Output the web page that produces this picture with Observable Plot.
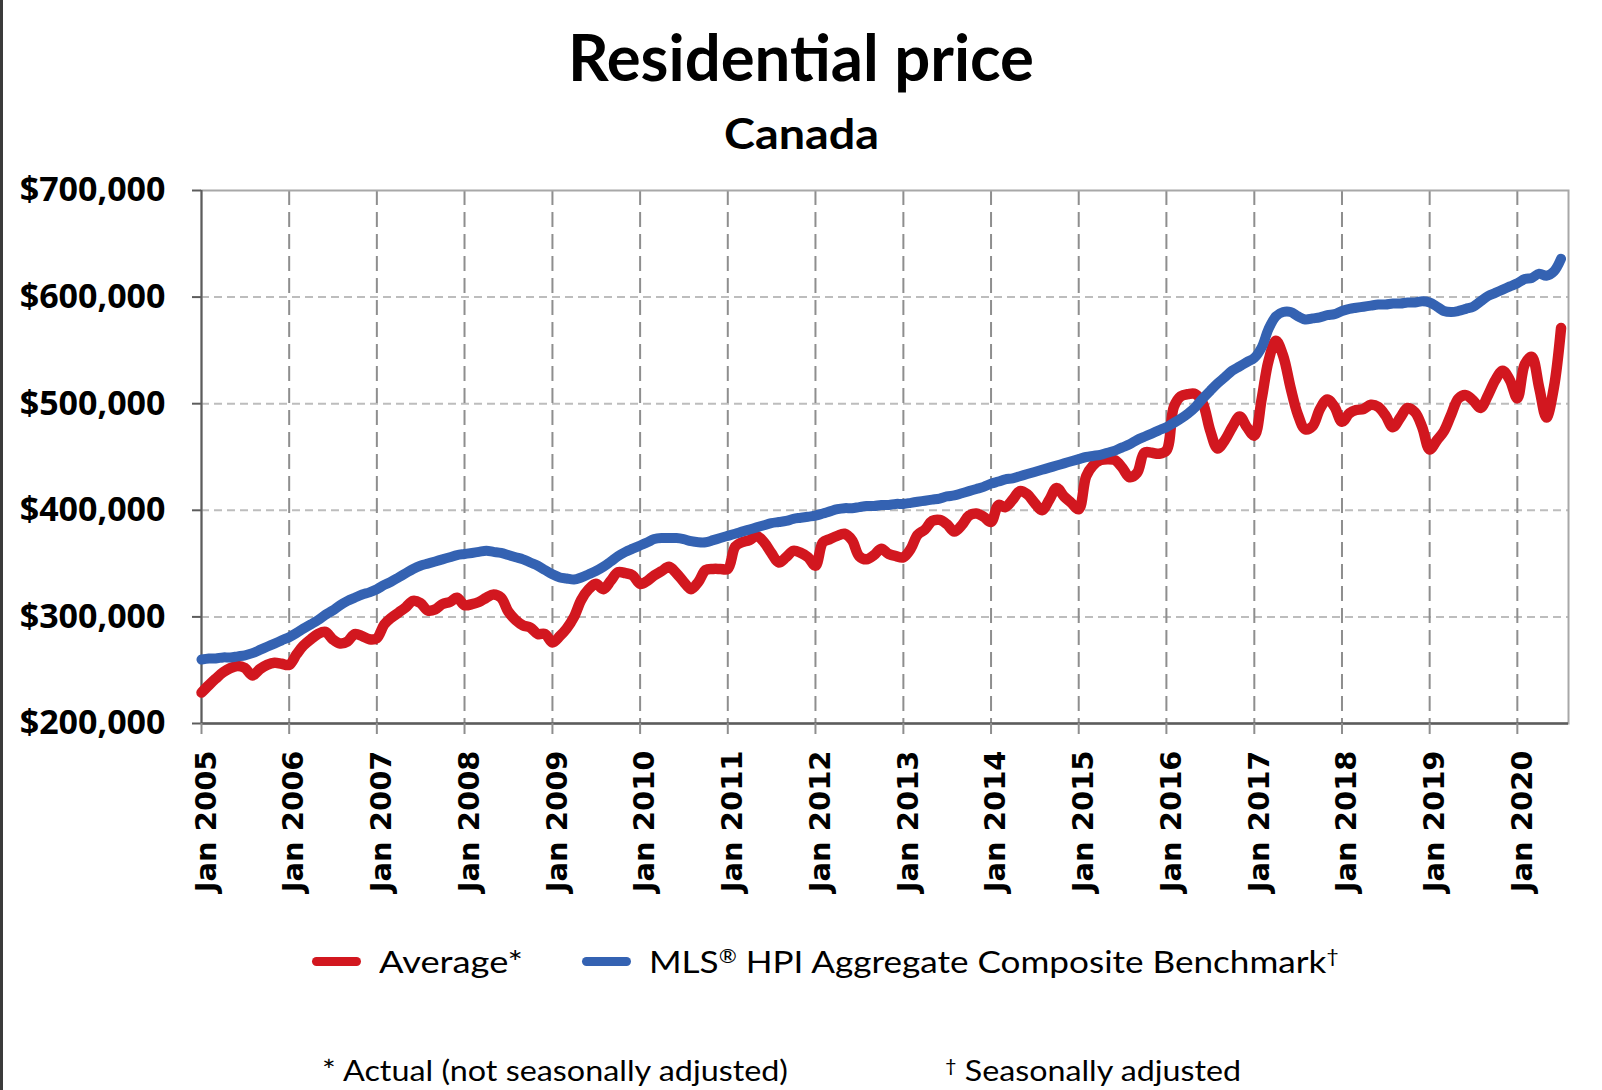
<!DOCTYPE html>
<html>
<head>
<meta charset="utf-8">
<title>Residential price — Canada</title>
<script src="https://cdn.jsdelivr.net/npm/d3@7"></script>
<script src="https://cdn.jsdelivr.net/npm/@observablehq/plot@0.6"></script>
<style>
  html, body { margin: 0; padding: 0; background: #fff; }
  #page { position: relative; width: 1602px; height: 1090px; overflow: hidden; background: #fff; color: #000; font-family: Lato, "Open Sans", sans-serif; }
  #edge { position: absolute; left: 0; top: 0; width: 3px; height: 100%; background: #3b3b3b; }
  .txt { position: absolute; left: 0; top: 0; margin: 0; white-space: nowrap; line-height: 1; font-family: Lato, "Open Sans", sans-serif; color: #000; }
  .txt sup { font-size: 0.62em; vertical-align: 0.5em; line-height: 0; }
  #chart { position: absolute; left: 0; top: 150px; }
  .swatch { position: absolute; height: 9px; border-radius: 5px; }
</style>
</head>
<body>
<div id="page">
  <div id="edge"></div>
  <h1 class="txt" id="title" style="font-weight:700;font-size:56px">Residential price</h1>
  <h2 class="txt" id="subtitle" style="font-weight:700;font-size:40px">Canada</h2>
  <div id="chart"></div>
  <div class="swatch" id="sw-avg"></div>
  <div class="txt" id="lg-avg" style="font-size:28px"></div>
  <div class="swatch" id="sw-hpi"></div>
  <div class="txt" id="lg-hpi" style="font-size:28px"></div>
  <div class="txt" id="note-avg" style="font-size:27px"></div>
  <div class="txt" id="note-hpi" style="font-size:27px"></div>
</div>
<script>
// ---------------- data ----------------
const firstMonth = "2005-01";   // monthly series, Jan 2005 .. Jul 2020
const lastMonth  = "2020-07";

const seriesNames = ["Average*", "MLS® HPI Aggregate Composite Benchmark†"];
const seriesColors = ["#d2171f", "#3462b2"];
const footnotes = ["* Actual (not seasonally adjusted)", "† Seasonally adjusted"];

// Average price (actual, not seasonally adjusted), $
const averagePrice = [
  229000,236000,242000,248000,252000,254000,252000,245000,251000,255000,257000,256000, // 2005
  255000,265000,273000,279000,284000,286000,279000,275000,277000,284000,282000,279000, // 2006
  280000,293000,299000,304000,309000,315000,313000,306000,307000,312000,314000,318000, // 2007
  311000,312000,314000,318000,321000,318000,305000,297000,292000,290000,284000,284000, // 2008
  276000,282000,289000,300000,316000,326000,331000,326000,334000,342000,341000,339000, // 2009
  331000,334000,339000,343000,347000,341000,333000,326000,333000,344000,345000,345000, // 2010
  345000,366000,370000,372000,376000,370000,360000,351000,356000,362000,360000,356000, // 2011
  348000,370000,373000,376000,378000,372000,357000,354000,358000,364000,359000,357000, // 2012
  356000,364000,377000,382000,390000,391000,387000,380000,386000,395000,397000,394000, // 2013
  389000,405000,403000,410000,418000,415000,407000,400000,410000,421000,413000,407000, // 2014
  401000,432000,442000,447000,448000,447000,440000,431000,435000,454000,454000,453000, // 2015
  456000,497000,507000,509000,509000,500000,475000,458000,466000,478000,488000,478000, // 2016
  470000,505000,540000,559000,545000,515000,490000,476000,479000,495000,504000,497000, // 2017
  483000,491000,494000,495000,499000,497000,489000,478000,487000,496000,492000,478000, // 2018
  457000,466000,474000,490000,505000,508000,503000,496000,508000,522000,531000,522000, // 2019
  505000,537000,544000,515000,487000,515000,571000                                     // 2020
];

// MLS® HPI Aggregate Composite Benchmark (seasonally adjusted), $
const hpiBenchmark = [
  260000,261000,261000,262000,262000,263000,264000,266000,269000,272000,275000,278000, // 2005
  281000,285000,289000,293000,297000,302000,306000,311000,315000,318000,321000,323000, // 2006
  326000,330000,333000,337000,341000,345000,348000,350000,352000,354000,356000,358000, // 2007
  359000,360000,361000,362000,361000,360000,358000,356000,354000,351000,348000,344000, // 2008
  340000,337000,336000,335000,337000,340000,343000,347000,352000,357000,361000,364000, // 2009
  367000,370000,373000,374000,374000,374000,373000,371000,370000,370000,372000,374000, // 2010
  376000,378000,380000,382000,384000,386000,388000,389000,390000,392000,393000,394000, // 2011
  395000,397000,399000,401000,402000,402000,403000,404000,404000,405000,405000,406000, // 2012
  406000,407000,408000,409000,410000,411000,413000,414000,416000,418000,420000,422000, // 2013
  425000,427000,429000,430000,432000,434000,436000,438000,440000,442000,444000,446000, // 2014
  448000,450000,451000,452000,454000,456000,459000,462000,466000,469000,472000,475000, // 2015
  478000,482000,486000,491000,497000,505000,512000,519000,525000,531000,535000,539000, // 2016
  543000,553000,570000,582000,586000,586000,582000,579000,580000,581000,583000,584000, // 2017
  587000,589000,590000,591000,592000,593000,593000,594000,594000,595000,595000,596000, // 2018
  595000,591000,587000,586000,587000,589000,591000,596000,601000,604000,607000,610000, // 2019
  613000,617000,618000,622000,620000,624000,636000                                     // 2020
];

const yTicks = [200000, 300000, 400000, 500000, 600000, 700000];
const xTickLabels = ["Jan 2005","Jan 2006","Jan 2007","Jan 2008","Jan 2009","Jan 2010","Jan 2011","Jan 2012",
                     "Jan 2013","Jan 2014","Jan 2015","Jan 2016","Jan 2017","Jan 2018","Jan 2019","Jan 2020"];

// ---------------- build table ----------------
const parseMonth = d3.utcParse("%Y-%m");
const months = d3.utcMonth.range(parseMonth(firstMonth), d3.utcMonth.offset(parseMonth(lastMonth), 1));
const table = months.map((m, i) => ({month: m, avg: averagePrice[i], hpi: hpiBenchmark[i]}));
const xTicks = xTickLabels.map(s => d3.utcParse("%b %Y")(s));
const labelByTime = new Map(xTicks.map((d, i) => [+d, xTickLabels[i]]));
const xDomain = [months[0], d3.utcMonth.offset(months[months.length - 1], 1)];
const fmtMoney = d => "$" + d3.format(",")(d);

const chart = Plot.plot({
  width: 1602,
  height: 760,
  marginTop: 40,
  marginBottom: 187,
  marginLeft: 201,
  marginRight: 34,
  style: {background: "transparent", overflow: "visible", color: "#000"},
  x: {type: "utc", domain: xDomain},
  y: {domain: [yTicks[0], yTicks[yTicks.length - 1]]},
  marks: [
    Plot.gridY({ticks: yTicks.slice(1, -1), stroke: "#bdbdbd", strokeOpacity: 1, strokeWidth: 2, strokeDasharray: "8,5"}),
    Plot.gridX({ticks: xTicks.slice(1), stroke: "#8e8e8e", strokeOpacity: 1, strokeWidth: 2, strokeDasharray: "15,7"}),
    Plot.frame({stroke: "#a8a8a8", strokeWidth: 2}),
    Plot.ruleX([xDomain[0]], {stroke: "#5c5c5c", strokeWidth: 2}),
    Plot.ruleY([yTicks[0]], {stroke: "#5c5c5c", strokeWidth: 2.5}),
    Plot.axisY({ticks: yTicks, tickFormat: fmtMoney, tickSize: 9, tickPadding: 27,
      stroke: "#5c5c5c", strokeWidth: 2, fill: "#000",
      fontSize: 34, fontWeight: "bold", fontFamily: "Open Sans", label: null}),
    // x tick marks (no text)
    Plot.axisX({ticks: xTicks, tickSize: 11, stroke: "#8e8e8e", strokeWidth: 2, fill: "none", label: null}),
    // x tick labels (no tick marks), nudged right like the reference
    Plot.axisX({ticks: xTicks, tickFormat: d => labelByTime.get(+d), tickRotate: -90,
      tickSize: 0, tickPadding: 27, fill: "#000", dx: 5,
      fontSize: 29, fontWeight: "bold", fontFamily: "DejaVu Sans", label: null}),
    Plot.line(table, {x: "month", y: "avg", stroke: seriesColors[0], strokeWidth: 10.5, curve: "catmull-rom",
      strokeLinejoin: "round", strokeLinecap: "round"}),
    Plot.line(table, {x: "month", y: "hpi", stroke: seriesColors[1], strokeWidth: 10, curve: "catmull-rom",
      strokeLinejoin: "round", strokeLinecap: "round"})
  ]
});
document.getElementById("chart").appendChild(chart);

// ---------------- text & legend ----------------
const withSup = s => s.replace(/[®†]/g, c => `<sup>${c}</sup>`);
document.getElementById("lg-avg").textContent = seriesNames[0];
document.getElementById("lg-hpi").innerHTML = withSup(seriesNames[1]);
document.getElementById("note-avg").textContent = footnotes[0];
document.getElementById("note-hpi").innerHTML = withSup(footnotes[1]);

const swA = document.getElementById("sw-avg");
Object.assign(swA.style, {left: "312px", width: "49px", top: "957px", background: seriesColors[0]});
const swH = document.getElementById("sw-hpi");
Object.assign(swH.style, {left: "582px", width: "49px", top: "957px", background: seriesColors[1]});

// place text: given left/center x, baseline, box width and cap height
function place(id, {x, anchor = "start", baseline, width, cap, capRatio = 0.7165}) {
  const el = document.getElementById(id);
  const marker = document.createElement("span");
  marker.style.cssText = "display:inline-block;width:0;height:0;vertical-align:baseline";
  el.appendChild(marker);
  const r = el.getBoundingClientRect();
  const base = marker.getBoundingClientRect().top - r.top;
  const fs = parseFloat(getComputedStyle(el).fontSize);
  const sx = width / r.width;
  const sy = cap / (capRatio * fs);
  el.style.transformOrigin = `0px ${base}px`;
  el.style.left = (anchor === "middle" ? x - width / 2 : x) + "px";
  el.style.top = (baseline - base) + "px";
  el.style.transform = `scale(${sx}, ${sy})`;
}
place("title",    {x: 801, anchor: "middle", baseline: 81,  width: 466, cap: 47});
place("subtitle", {x: 801, anchor: "middle", baseline: 149, width: 155, cap: 30.5});
place("lg-avg",   {x: 379, baseline: 973, width: 144, cap: 22});
place("lg-hpi",   {x: 649, baseline: 973, width: 690, cap: 22});
place("note-avg", {x: 322, baseline: 1081, width: 466, cap: 21});
place("note-hpi", {x: 945, baseline: 1081, width: 296, cap: 21});
</script>
</body>
</html>
